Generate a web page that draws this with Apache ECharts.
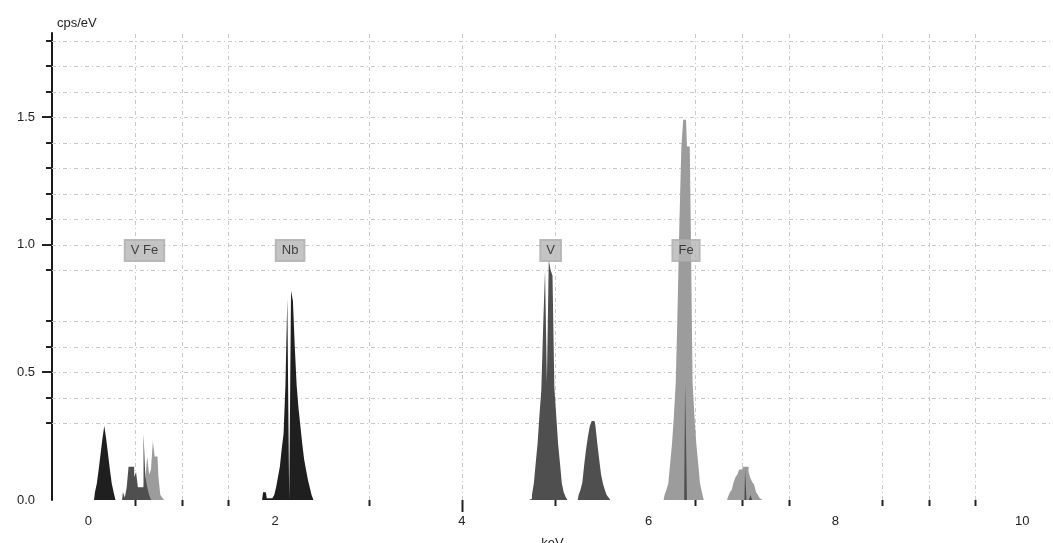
<!DOCTYPE html>
<html><head><meta charset="utf-8">
<script src="https://cdn.jsdelivr.net/npm/echarts@6/dist/echarts.min.js"></script>
<style>html,body{margin:0;padding:0;background:#fff}#c{width:1053px;height:543px}</style>
</head><body><div id="c"></div>
<script>
// ---- axes / ticks ----
const xMin = -0.39, xMax = 10.33;
const yMin = 0, yMax = 1.83;
const xLabelValues = [0, 2, 4, 6, 8, 10];
const yLabelValues = [0, 0.5, 1.0, 1.5];
const xGridValues = [0.5, 1, 1.5, 3, 4, 5, 6.5, 7, 7.5, 8.5, 9, 9.5];
const xMajorTickValues = [4];
const yGridValues = [0.3, 0.4, 0.5, 0.6, 0.7, 0.9, 1.0, 1.1, 1.2, 1.3, 1.4, 1.5, 1.6, 1.7, 1.8];
const yMajorTickValues = [0.5, 1.0, 1.5];

// ---- spectra (channel width in keV, start energy, counts in cps/eV) ----
const binWidth = 0.02;
const nbMStart = 0.08;
const nbMCounts = [0.03, 0.065, 0.12, 0.18, 0.24, 0.29, 0.24, 0.18, 0.12, 0.065, 0.03];
const nbLStart = 1.88;
const nbLCounts = [0.03, 0.03, 0.007, 0.007, 0.007, 0.005, 0.02, 0.05, 0.09, 0.13, 0.20, 0.26, 0.45, 0.79, 0, 0.82, 0.78, 0.60, 0.45, 0.36, 0.29, 0.22, 0.16, 0.12, 0.08, 0.05, 0.02];
const vLStart = 0.38;
const vLCounts = [0.03, 0.01, 0.05, 0.13, 0.13, 0.13, 0.09, 0.11, 0.05, 0.05, 0.05, 0.26, 0.09, 0.05, 0.02];
const vKaStart = 4.74;
const vKaCounts = [0.005, 0.02, 0.065, 0.144, 0.22, 0.33, 0.43, 0.68, 0.90, 0.46, 0.94, 0.90, 0.88, 0.44, 0.33, 0.22, 0.144, 0.065, 0.03, 0.013];
const vKbStart = 5.26;
const vKbCounts = [0.02, 0.04, 0.07, 0.14, 0.20, 0.25, 0.29, 0.31, 0.31, 0.29, 0.22, 0.16, 0.10, 0.065, 0.04, 0.02, 0.01];
const vSpikeX = [6.40, 7.04, 7.10];
const vSpikeCounts = [0.46, 0.125, 0.02];
const feLStart = 0.60;
const feLCounts = [0.05, 0.09, 0.17, 0.10, 0.12, 0.23, 0.17, 0.17, 0.09, 0.02, 0.01];
const feKaStart = 6.18;
const feKaCounts = [0.02, 0.04, 0.065, 0.144, 0.22, 0.33, 0.46, 0.76, 1.10, 1.385, 1.49, 1.49, 1.385, 1.385, 1.10, 0.46, 0.33, 0.22, 0.144, 0.065, 0.03];
const feKbStart = 6.86;
const feKbCounts = [0.013, 0.03, 0.04, 0.07, 0.09, 0.10, 0.12, 0.12, 0.13, 0.13, 0.13, 0.11, 0.085, 0.07, 0.06, 0.03, 0.02, 0.007];

// ---- peak labels ----
const peakLabels = ['V Fe', 'Nb', 'V', 'Fe'];
const peakLabelX = [0.6, 2.16, 4.95, 6.40];
const peakLabelY = 0.978;

function seg(start, counts, w) { return { start, counts, w: w || binWidth }; }
function toSteps(segments) {
  const out = [];
  segments.forEach(s => {
    out.push([+(s.start - s.w).toFixed(4), 0]);
    s.counts.forEach((c, i) => out.push([+(s.start + i * s.w).toFixed(4), c]));
    out.push([+(s.start + s.counts.length * s.w).toFixed(4), 0]);
  });
  return out;
}
const nbData = toSteps([seg(nbMStart, nbMCounts), seg(nbLStart, nbLCounts)]);
const vData = toSteps([seg(vLStart, vLCounts), seg(vKaStart, vKaCounts), seg(vKbStart, vKbCounts)]
  .concat(vSpikeX.map((x, i) => seg(x, [vSpikeCounts[i]], i === 0 ? 0.02 : 0.015))));
const feData = toSteps([seg(feLStart, feLCounts), seg(feKaStart, feKaCounts), seg(feKbStart, feKbCounts)]);

function spectrum(name, data, color) {
  return {
    name, type: 'line', step: 'middle', data, showSymbol: false, symbol: 'none', silent: true,
    lineStyle: { width: 0, color }, itemStyle: { color },
    areaStyle: { color, opacity: 1 }, z: 3, animation: false
  };
}
const px = v => Math.round(v) + 0.5;
const gridColor = '#c9c9c9';
const tickColor = '#222';

const chart = echarts.init(document.getElementById('c'), null, { renderer: 'canvas' });
chart.setOption({
  animation: false,
  backgroundColor: '#fff',
  textStyle: { fontFamily: 'Liberation Sans, Arial, sans-serif' },
  grid: { left: 52, right: 0, top: 33, bottom: 43, containLabel: false, outerBoundsMode: 'none' },
  xAxis: {
    type: 'value', min: xMin, max: xMax,
    axisLine: { show: false }, axisTick: { show: false }, splitLine: { show: false },
    axisLabel: { customValues: xLabelValues, margin: 15, fontSize: 13, color: '#222' },
    name: 'keV', nameLocation: 'middle', nameGap: 37,
    nameTextStyle: { fontSize: 13, color: '#222' }
  },
  yAxis: {
    type: 'value', min: yMin, max: yMax,
    axisLine: { show: true, onZero: false, lineStyle: { color: '#1a1a1a', width: 2 } },
    axisTick: { show: false }, splitLine: { show: false },
    axisLabel: { customValues: yLabelValues, formatter: v => v.toFixed(1), margin: 17, fontSize: 13, color: '#222' },
    name: 'cps/eV', nameLocation: 'end', nameGap: 3,
    nameTextStyle: { fontSize: 13, color: '#222', align: 'left', verticalAlign: 'bottom', padding: [0, 0, 0, 5] }
  },
  series: [
    {
      type: 'custom', coordinateSystem: 'cartesian2d', silent: true, z: 1, animation: false,
      data: xGridValues.map(v => [v, 0]),
      renderItem(params, api) {
        const x = api.value(0);
        const b = api.coord([x, yMin]);
        const t = api.coord([x, yMax]);
        const len = xMajorTickValues.includes(x) ? 12 : 6;
        return { type: 'group', children: [
          { type: 'line', shape: { x1: px(b[0]), y1: b[1], x2: px(b[0]), y2: t[1] }, style: { stroke: gridColor, lineWidth: 1, lineDash: [4, 3, 1, 3] } },
          { type: 'line', shape: { x1: px(b[0]), y1: b[1], x2: px(b[0]), y2: b[1] + len }, style: { stroke: tickColor, lineWidth: 2 } }
        ] };
      }
    },
    {
      type: 'custom', coordinateSystem: 'cartesian2d', silent: true, z: 1, animation: false,
      data: yGridValues.map(v => [xMin, v]),
      renderItem(params, api) {
        const y = api.value(1);
        const l = api.coord([xMin, y]);
        const r = api.coord([xMax, y]);
        const len = yMajorTickValues.includes(y) ? 10 : 6;
        return { type: 'group', children: [
          { type: 'line', shape: { x1: l[0], y1: px(l[1]), x2: r[0], y2: px(l[1]) }, style: { stroke: gridColor, lineWidth: 1, lineDash: [4, 3, 1, 3] } },
          { type: 'line', shape: { x1: l[0] - len, y1: Math.round(l[1]), x2: l[0], y2: Math.round(l[1]) }, style: { stroke: tickColor, lineWidth: 2 } }
        ] };
      }
    },
    spectrum('Fe', feData, '#9c9c9c'),
    spectrum('V', vData, '#4f4f4f'),
    spectrum('Nb', nbData, '#1f1f1f'),
    {
      type: 'scatter', silent: true, z: 10, animation: false,
      symbol: 'circle', symbolSize: 1, itemStyle: { color: 'rgba(0,0,0,0)' },
      data: peakLabels.map((n, i) => ({ name: n, value: [peakLabelX[i], peakLabelY] })),
      label: {
        show: true, position: 'inside', formatter: '{b}', fontSize: 13, color: '#1a1a1a',
        backgroundColor: '#b5b5b5', borderColor: '#a9a9a9', borderWidth: 1, padding: [4, 6]
      }
    }
  ]
});
</script></body></html>
